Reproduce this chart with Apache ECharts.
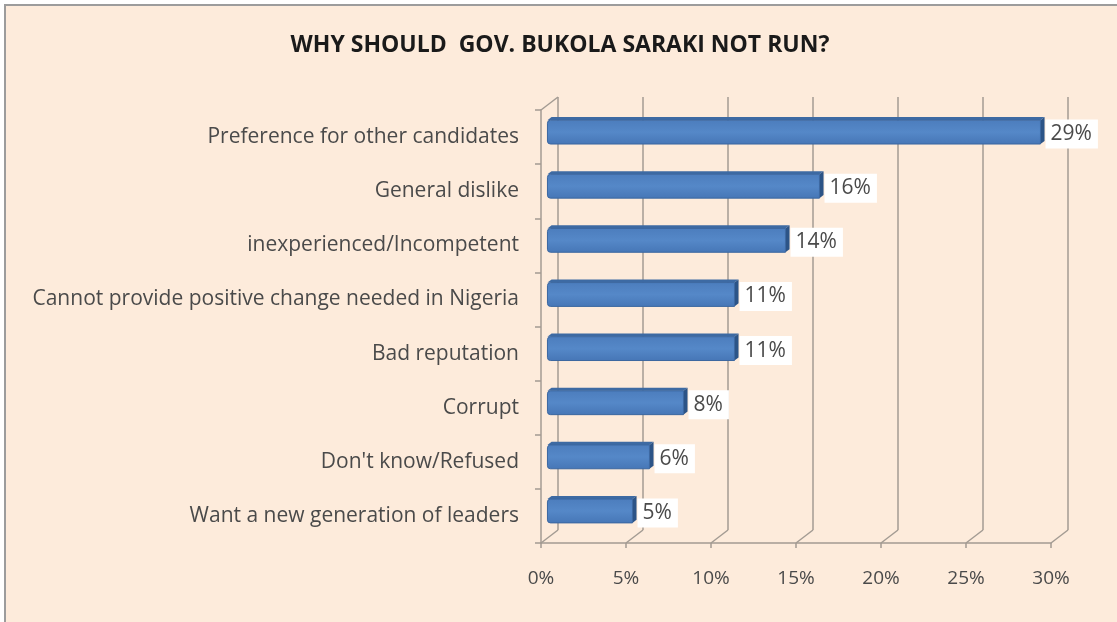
<!DOCTYPE html>
<html>
<head>
<meta charset="utf-8">
<script src="https://cdn.jsdelivr.net/npm/echarts@6/dist/echarts.min.js"></script>
<style>
  html, body { margin: 0; padding: 0; background: #ffffff; }
  #chart { width: 1117px; height: 622px; }
</style>
</head>
<body>
<div id="chart"></div>
<script>
// Survey answers, in the order they are listed top to bottom
const categories = [
  'Preference for other candidates',
  'General dislike',
  'inexperienced/Incompetent',
  'Cannot provide positive change needed in Nigeria',
  'Bad reputation',
  'Corrupt',
  "Don't know/Refused",
  'Want a new generation of leaders'
];
const values = [29, 16, 14, 11, 11, 8, 6, 5];
const tickValues = [0, 5, 10, 15, 20, 25, 30];

// Pseudo-3D depth of the plot box (back wall offset from the front plane)
const DEPTH_X = 17, DEPTH_Y = -13;
const FONT = '"Open Sans"';
const GRID_COLOR = '#a39b93';
const TEXT_COLOR = '#4a4a4a';

const chart = echarts.init(document.getElementById('chart'), null, { renderer: 'canvas' });

function barItem(params, api) {
  const v = api.value(0), i = api.value(1);
  const p0 = api.coord([0, i]);
  const p1 = api.coord([v, i]);
  const band = api.size([0, 1])[1];
  const h = band * 0.44;
  const ox = DEPTH_X * 0.38, oy = DEPTH_Y * 0.38;   // bar sits mid-depth
  const dx = DEPTH_X * 0.24, dy = DEPTH_Y * 0.24;   // bar thickness
  const yTop = p0[1] + oy - h / 2, yBot = yTop + h;
  const xL = p0[0] + ox, xR = p1[0] + ox;
  return {
    type: 'group',
    children: [
      { type: 'polygon', shape: { points: [[xL, yTop], [xR, yTop], [xR + dx, yTop + dy], [xL + dx, yTop + dy]] },
        style: { fill: '#3d6aa3' } },
      { type: 'polygon', shape: { points: [[xR, yTop], [xR + dx, yTop + dy], [xR + dx, yBot + dy], [xR, yBot]] },
        style: { fill: '#2c5487' } },
      { type: 'rect', shape: { x: xL, y: yTop, width: xR - xL, height: h, r: [3, 0, 0, 3] },
        style: {
          fill: new echarts.graphic.LinearGradient(0, 0, 0, 1, [
            { offset: 0, color: '#4c7dbd' },
            { offset: 0.5, color: '#5588c8' },
            { offset: 1, color: '#4676b6' }
          ]),
          stroke: '#3b67a0', lineWidth: 1
        } },
      { type: 'text', z2: 10,
        style: {
          text: v + '%', x: xR + dx + 1, y: p0[1] + oy + 2,
          verticalAlign: 'middle', align: 'left',
          font: '21px ' + FONT, fill: TEXT_COLOR,
          backgroundColor: '#ffffff', padding: [4, 6, 4, 5]
        } }
    ]
  };
}

function floorItem(params, api) {
  const cs = params.coordSys;
  const t = api.value(0);
  const x = api.coord([t, 0])[0];
  const yb = cs.y + cs.height;
  const children = [
    { type: 'line', shape: { x1: x, y1: yb, x2: x + DEPTH_X, y2: yb + DEPTH_Y },
      style: { stroke: GRID_COLOR, lineWidth: 1.5 } }
  ];
  if (t === 0) {
    children.push({ type: 'line', shape: { x1: cs.x, y1: cs.y, x2: cs.x + DEPTH_X, y2: cs.y + DEPTH_Y },
      style: { stroke: GRID_COLOR, lineWidth: 1.5 } });
  }
  return { type: 'group', children };
}

const FRONT = { left: 541, top: 110, width: 510, height: 433 };

chart.setOption({
  backgroundColor: '#ffffff',
  animation: false,
  graphic: [
    { type: 'rect', z: -10, shape: { x: 5, y: 5, width: 1200, height: 700 },
      style: { fill: '#fdebdb', stroke: '#9c9c9c', lineWidth: 2 } }
  ],
  title: {
    text: 'WHY SHOULD  GOV. BUKOLA SARAKI NOT RUN?',
    left: 555, top: 29, textAlign: 'center',
    textStyle: { fontFamily: FONT, fontWeight: 'bold', fontSize: 23, color: '#1a1a1a' }
  },
  grid: [
    { left: FRONT.left, top: FRONT.top, width: FRONT.width, height: FRONT.height },
    { left: FRONT.left + DEPTH_X, top: FRONT.top + DEPTH_Y, width: FRONT.width, height: FRONT.height }
  ],
  xAxis: [
    { type: 'value', gridIndex: 0, min: 0, max: 30, interval: 5,
      axisLine: { show: true, lineStyle: { color: GRID_COLOR, width: 1.5 } },
      axisTick: { show: true, length: 5, lineStyle: { color: GRID_COLOR, width: 1.5 } },
      splitLine: { show: false },
      axisLabel: { formatter: '{value}%', margin: 26, fontFamily: FONT, fontSize: 19, color: TEXT_COLOR } },
    { type: 'value', gridIndex: 1, min: 0, max: 30, interval: 5,
      axisLine: { show: false }, axisTick: { show: false }, axisLabel: { show: false },
      splitLine: { show: true, lineStyle: { color: GRID_COLOR, width: 1.5 } } }
  ],
  yAxis: [
    { type: 'category', gridIndex: 0, data: categories, inverse: true,
      axisLine: { show: true, lineStyle: { color: GRID_COLOR, width: 1.5 } },
      axisTick: { show: true, length: 6, lineStyle: { color: GRID_COLOR, width: 1.5 } },
      splitLine: { show: false },
      axisLabel: { margin: 22, fontFamily: FONT, fontSize: 21, color: TEXT_COLOR } },
    { type: 'category', gridIndex: 1, data: categories, inverse: true, show: false }
  ],
  series: [
    { type: 'custom', xAxisIndex: 0, yAxisIndex: 0, z: 2,
      data: tickValues.map(t => [t, 0]), encode: { x: 0, y: 1 },
      renderItem: floorItem, silent: true },
    { type: 'custom', xAxisIndex: 0, yAxisIndex: 0, z: 5,
      data: values.map((v, i) => [v, i]), encode: { x: 0, y: 1 },
      renderItem: barItem }
  ]
});
</script>
</body>
</html>
